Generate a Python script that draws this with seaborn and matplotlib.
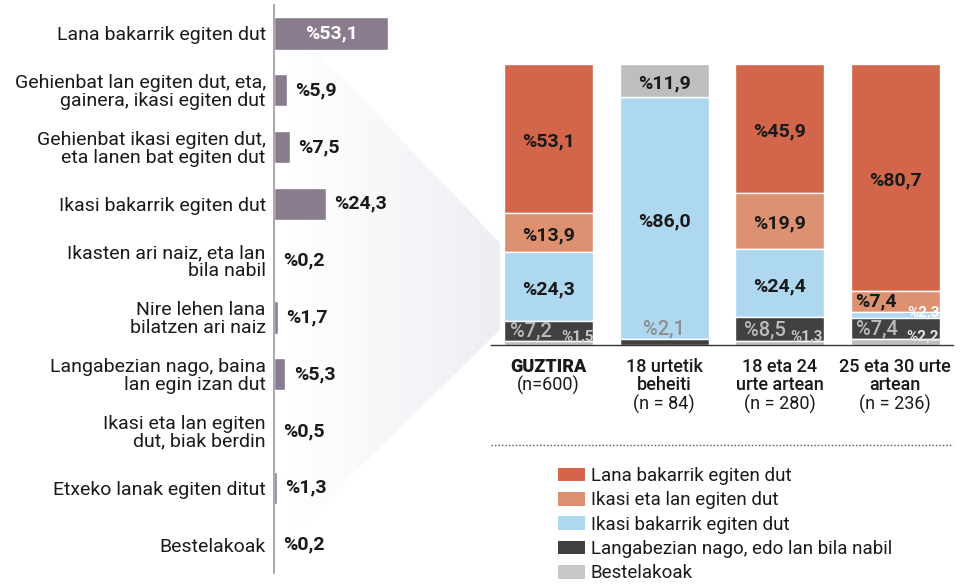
import numpy as np
import pandas as pd
import matplotlib
matplotlib.use("Agg")
import matplotlib.pyplot as plt
from matplotlib.patches import Patch, Polygon
from matplotlib.colors import LinearSegmentedColormap
import seaborn as sns

# ---- data -------------------------------------------------------------
left_labels = [
    "Lana bakarrik egiten dut",
    "Gehienbat lan egiten dut, eta,\ngainera, ikasi egiten dut",
    "Gehienbat ikasi egiten dut,\neta lanen bat egiten dut",
    "Ikasi bakarrik egiten dut",
    "Ikasten ari naiz, eta lan\nbila nabil",
    "Nire lehen lana\nbilatzen ari naiz",
    "Langabezian nago, baina\nlan egin izan dut",
    "Ikasi eta lan egiten\ndut, biak berdin",
    "Etxeko lanak egiten ditut",
    "Bestelakoak",
]
left_values = [53.1, 5.9, 7.5, 24.3, 0.2, 1.7, 5.3, 0.5, 1.3, 0.2]

groups = ["GUZTIRA", "18 urtetik\nbeheiti", "18 eta 24\nurte artean", "25 eta 30 urte\nartean"]
group_n = ["(n=600)", "(n = 84)", "(n = 280)", "(n = 236)"]

series_names = [
    "Lana bakarrik egiten dut",
    "Ikasi eta lan egiten dut",
    "Ikasi bakarrik egiten dut",
    "Langabezian nago, edo lan bila nabil",
    "Bestelakoak",
]
lana = [53.1, 0.0, 45.9, 80.7]
ikasi_lan = [13.9, 0.0, 19.9, 7.4]
ikasi = [24.3, 86.0, 24.4, 2.3]
langabezian = [7.2, 2.1, 8.5, 7.4]
bestelakoak = [1.5, 11.9, 1.3, 2.2]
other_on_top = [False, True, False, False]

# ---- style -------------------------------------------------------------
C_LEFT = "#8A7C8F"
C_LANA = "#D3654A"
C_IKLAN = "#DE9171"
C_IKASI = "#AED7F0"
C_LANGA = "#414141"
C_BEST = "#BEBEBE"
series_colors = [C_LANA, C_IKLAN, C_IKASI, C_LANGA, C_BEST]
TXT = "#1A1A1A"

sns.set_style("white")
plt.rcParams["font.family"] = ["Roboto", "DejaVu Sans"]

W, H = 960, 585
fig = plt.figure(figsize=(W / 100, H / 100), dpi=100)
fig.patch.set_facecolor("white")

def px_box(x0, y0, x1, y1):
    return [x0 / W, 1 - y1 / H, (x1 - x0) / W, (y1 - y0) / H]

# background decoration (funnel shading between the two charts)
bg = fig.add_axes([0, 0, 1, 1], zorder=0)
bg.set_xlim(0, W)
bg.set_ylim(H, 0)
bg.axis("off")
poly = Polygon([(290, 23), (500, 243), (500, 330), (290, 536)], closed=True,
               facecolor="none", edgecolor="none")
bg.add_patch(poly)
grad_cmap = LinearSegmentedColormap.from_list("g", ["#FFFFFF", "#F6F7F9", "#ECEEF3"])
img = bg.imshow(np.linspace(0, 1, 256)[None, :], cmap=grad_cmap, aspect="auto",
                extent=(290, 500, 540, 20), interpolation="bilinear")
img.set_clip_path(poly)
bg.plot([491, 953], [445, 445], ls=(0, (1, 1.5)), color="#555555", lw=1)

# ---- left chart --------------------------------------------------------
ax1 = fig.add_axes(px_box(274, 5, 400, 573), zorder=2)
ax1.patch.set_alpha(0)
df_left = pd.DataFrame({"label": left_labels, "value": left_values})
sns.barplot(data=df_left, x="value", y="label", orient="h", color=C_LEFT,
            width=0.57, saturation=1, ax=ax1)
ax1.set_xlim(0, 126 / 2.15)
ax1.set_ylim(len(left_labels) - 0.5, -0.5)
ax1.set_xlabel("")
ax1.set_ylabel("")
ax1.set_xticks([])
for s in ["top", "right", "bottom"]:
    ax1.spines[s].set_visible(False)
ax1.spines["left"].set_color("#A79DAD")
ax1.spines["left"].set_linewidth(1.3)
ax1.set_yticks(range(len(left_labels)))
ax1.set_yticklabels(left_labels, fontsize=14, color=TXT, linespacing=0.98)
ax1.set_yticks(np.arange(-0.5, len(left_labels), 1.0), minor=True)
ax1.tick_params(axis="y", which="major", length=0, pad=6)
ax1.tick_params(axis="y", which="minor", length=6, width=1.2, color="#A79DAD")

for i, v in enumerate(left_values):
    txt = "%" + f"{v:.1f}".replace(".", ",")
    if v > 40:
        ax1.text(v / 2, i, txt, color="white", fontsize=14, fontweight="bold",
                 ha="center", va="center")
    else:
        ax1.annotate(txt, xy=(v, i), xytext=(6, 0), textcoords="offset points",
                     color=TXT, fontsize=14, fontweight="bold", ha="left", va="center")

# ---- right stacked chart ----------------------------------------------
ax2 = fig.add_axes(px_box(491, 64, 953, 345), zorder=2)
ax2.patch.set_alpha(0)

series_vals = [lana, ikasi_lan, ikasi, langabezian, bestelakoak]
n_groups = len(groups)
# stacking order from bottom; "Bestelakoak" goes on top where flagged
bottoms = {name: np.zeros(n_groups) for name in series_names}
for g in range(n_groups):
    order = [4, 3, 2, 1, 0] if not other_on_top[g] else [3, 2, 1, 0, 4]
    acc = 0.0
    for k in order:
        bottoms[series_names[k]][g] = acc
        acc += series_vals[k][g]

for name, vals, col in zip(series_names, series_vals, series_colors):
    df_s = pd.DataFrame({"group": groups, "value": vals})
    sns.barplot(data=df_s, x="group", y="value", color=col, saturation=1,
                width=0.77, bottom=bottoms[name], ax=ax2)

ax2.set_xlim(-0.5, n_groups - 0.5)
ax2.set_ylim(0, 100)
ax2.set_xlabel("")
ax2.set_ylabel("")
ax2.set_yticks([])
ax2.set_xticks(np.arange(-0.5, n_groups, 1.0))
ax2.set_xticklabels([])
ax2.tick_params(axis="x", length=7, width=1, color="#333333", direction="out")
for s in ["top", "right", "left"]:
    ax2.spines[s].set_visible(False)
ax2.spines["bottom"].set_color("#333333")
ax2.spines["bottom"].set_linewidth(1)

def pct(v):
    return "%" + f"{v:.1f}".replace(".", ",")

big = dict(fontsize=14, fontweight="bold", ha="center", va="center")
for g in range(n_groups):
    for name, vals in zip(series_names, series_vals):
        v = vals[g]
        if v >= 10:
            ax2.text(g, bottoms[name][g] + v / 2 - 1, pct(v), color=TXT, **big)

small = dict(fontsize=11, fontweight="bold", ha="center", va="bottom")
grey = dict(fontsize=14.5, fontweight="medium", ha="center", va="center")
g = 0
ax2.text(g - 0.15, bottoms[series_names[3]][g] + langabezian[g] / 2, pct(langabezian[g]),
         color="#BBBBBB", **grey)
ax2.text(g + 0.25, 0.4, pct(bestelakoak[g]), color="#C9C9C9", **small)
g = 1
ax2.text(g, langabezian[g] + 0.2, pct(langabezian[g]), color="#8E8E8E",
         fontsize=14.5, fontweight="medium", ha="center", va="bottom")
g = 2
ax2.text(g - 0.13, bottoms[series_names[3]][g] + langabezian[g] / 2, pct(langabezian[g]),
         color="#BBBBBB", **grey)
ax2.text(g + 0.23, 0.4, pct(bestelakoak[g]), color="#C9C9C9", **small)
g = 3
ax2.text(g - 0.17, bottoms[series_names[1]][g] + ikasi_lan[g] / 2, pct(ikasi_lan[g]),
         color=TXT, **big)
ax2.text(g + 0.24, bottoms[series_names[2]][g] - 0.5, pct(ikasi[g]),
         color="white", **small)
ax2.text(g - 0.16, bottoms[series_names[3]][g] + langabezian[g] / 2, pct(langabezian[g]),
         color="#BBBBBB", **grey)
ax2.text(g + 0.24, 0.4, pct(bestelakoak[g]), color="#E6E6E6", **small)

# group labels below the axis
for g, (name, n) in enumerate(zip(groups, group_n)):
    lines = name.split("\n")
    for j, line in enumerate(lines + [n]):
        if j < len(lines):
            weight = "heavy" if g == 0 else "medium"
        else:
            weight = "normal"
        ax2.annotate(line, xy=(g, 0), xycoords=("data", "axes fraction"),
                     xytext=(0, -(22 + 18.5 * j) * 0.72), textcoords="offset points",
                     ha="center", va="center", fontsize=13, fontweight=weight,
                     color=TXT)

# ---- legend ------------------------------------------------------------
handles = [Patch(facecolor=c, edgecolor="none") for c in series_colors]
handles[-1] = Patch(facecolor="#C8C8C8", edgecolor="none")
fig.legend(handles, series_names, loc="upper left",
           bbox_to_anchor=(558 / W, 1 - 467 / H), frameon=False, fontsize=13.5,
           handlelength=1.45, handleheight=0.75, handletextpad=0.3,
           labelspacing=0.34, borderpad=0, borderaxespad=0, labelcolor=TXT)

fig.savefig("out.png", dpi=100, facecolor="white")
